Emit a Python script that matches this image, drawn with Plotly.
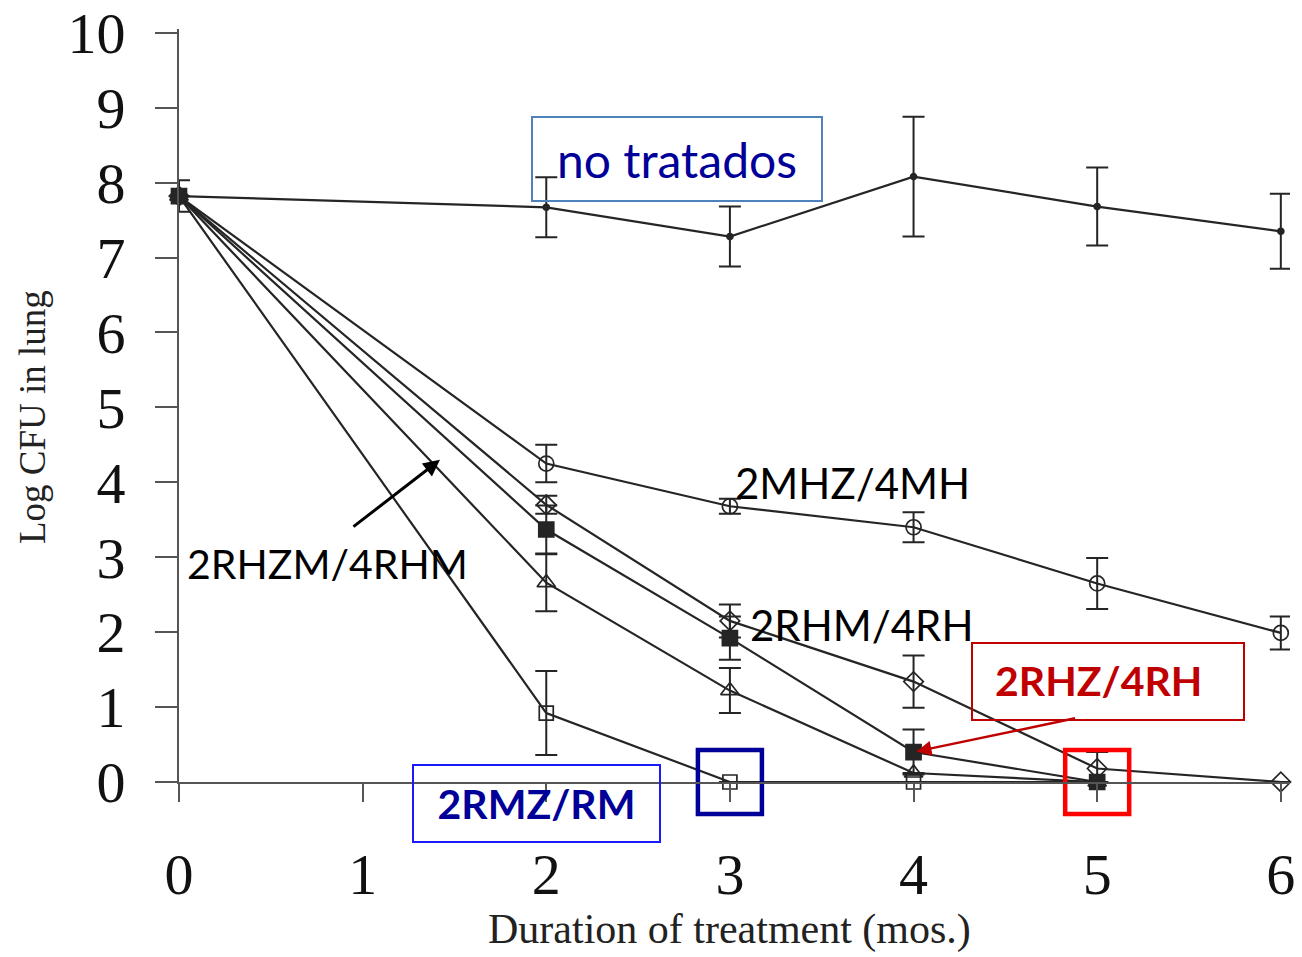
import plotly.graph_objects as go

# Months of treatment and log10 CFU in lung per regimen
months = [0, 2, 3, 4, 5, 6]

untreated = [7.82, 7.67, 7.28, 8.08, 7.68, 7.35]
untreated_err = [0.21, 0.40, 0.40, 0.80, 0.52, 0.50]

mhz_mh = [7.82, 4.25, 3.68, 3.40, 2.65, 1.99]
mhz_mh_err = [0, 0.25, 0.10, 0.20, 0.34, 0.22]

rhm_rh = [7.82, 3.70, 2.15, 1.34, 0.18, 0.0]
rhm_rh_err = [0, 0.12, 0.22, 0.35, 0.22, 0]

short_months = [0, 2, 3, 4, 5]

rhzm_rhm = [7.82, 2.66, 1.22, 0.12, 0.0]
rhzm_rhm_err = [0, 0.38, 0.30, 0, 0]

rmz_rm = [7.82, 0.92, 0.0, 0.0, 0.0]
rmz_rm_err = [0, 0.56, 0, 0, 0]

rhz_rh = [7.82, 3.37, 1.92, 0.40, 0.0]
rhz_rh_err = [0, 0.32, 0.29, 0.30, 0]

INK = "#252525"
AXIS = "#555555"
SERIF = "Liberation Serif"
SANS = "Lato"


def series(x, y, err, symbol, size):
    return go.Scatter(
        x=x, y=y, mode="lines+markers",
        line=dict(color=INK, width=2.2),
        marker=dict(symbol=symbol, size=size, color=INK,
                    line=dict(color=INK, width=1.7)),
        error_y=dict(type="data", array=err, color=INK, thickness=2, width=11),
        cliponaxis=False, showlegend=False, hoverinfo="x+y",
    )


fig = go.Figure()
fig.add_trace(series(months, untreated, untreated_err, "circle", 6))
fig.add_trace(series(months, mhz_mh, mhz_mh_err, "circle-open", 15))
fig.add_trace(series(months, rhm_rh, rhm_rh_err, "diamond-open", 15))
fig.add_trace(series(short_months, rhzm_rhm, rhzm_rhm_err, "triangle-up-open", 16))
fig.add_trace(series(short_months, rmz_rm, rmz_rm_err, "square-open", 14))
fig.add_trace(series(short_months, rhz_rh, rhz_rh_err, "square", 15))

# Highlight frames around the points where the bacterial count first reaches zero
fig.add_trace(go.Scatter(
    x=[short_months[2]], y=[rmz_rm[2]], mode="markers",
    marker=dict(symbol="square-open", size=64, color="#000099", line=dict(width=4.5)),
    cliponaxis=False, showlegend=False, hoverinfo="skip"))
fig.add_trace(go.Scatter(
    x=[short_months[4]], y=[rhz_rh[4]], mode="markers",
    marker=dict(symbol="square-open", size=64, color="#ff0000", line=dict(width=4.5)),
    cliponaxis=False, showlegend=False, hoverinfo="skip"))

annotations = [
    dict(x=2.711, y=8.32, xref="x", yref="y", text="no tratados", showarrow=False,
         font=dict(family=SANS, size=48, color="#000099"),
         bordercolor="#4f81bd", borderwidth=2, borderpad=0, width=288, height=82),
    dict(x=3.016, y=3.99, xref="x", yref="y", text="2MHZ/4MH", showarrow=False,
         xanchor="left", font=dict(family=SANS, size=42, color="#000000")),
    dict(x=3.098, y=2.10, xref="x", yref="y", text="2RHM/4RH", showarrow=False,
         xanchor="left", font=dict(family=SANS, size=42, color="#000000")),
    dict(x=0.033, y=2.92, xref="x", yref="y", text="2RHZM/4RHM", showarrow=False,
         xanchor="left", font=dict(family=SANS, size=41, color="#000000")),
    # boxed 2RHZ/4RH label: frame and text drawn separately
    dict(x=5.058, y=1.34, xref="x", yref="y", text=" ", showarrow=False,
         font=dict(family=SANS, size=20),
         bordercolor="#c00000", borderwidth=2, borderpad=0, width=270, height=75),
    dict(x=4.43, y=1.36, xref="x", yref="y", text="<b>2RHZ/4RH</b>", showarrow=False,
         xanchor="left", font=dict(family=SANS, size=41, color="#c00000")),
    dict(x=1.946, y=0, xref="x", yref="paper", yshift=-21, text="<b>2RMZ/RM</b>",
         showarrow=False, yanchor="middle",
         font=dict(family=SANS, size=41, color="#000099"),
         bordercolor="#1a1aff", borderwidth=2, borderpad=0, width=245, height=75),
    # pointer to the 2RHZM/4RHM curve
    dict(x=1.421, y=4.30, xref="x", yref="y", text="", showarrow=True,
         ax=-88, ay=68, arrowhead=2, arrowsize=1.1, arrowwidth=3, arrowcolor="#000000"),
    # pointer to the 2RHZ/4RH point at month 4
    dict(x=short_months[3], y=rhz_rh[3], xref="x", yref="y", text="", showarrow=True,
         ax=163, ay=-34, standoff=3, arrowhead=2, arrowsize=1.2, arrowwidth=2.5,
         arrowcolor="#c00000"),
    # axis titles
    dict(x=3.0, y=0, xref="x", yref="paper", yshift=-147, text="Duration of treatment (mos.)",
         showarrow=False, yanchor="middle", font=dict(family=SERIF, size=42, color="#222222")),
    dict(x=0, y=4.87, xref="paper", yref="y", xshift=-147, text="Log CFU in lung",
         showarrow=False, textangle=-90, xanchor="center", yanchor="middle",
         font=dict(family=SERIF, size=37, color="#222222")),
]

fig.update_layout(
    width=1302, height=957,
    margin=dict(l=179, r=12, t=29, b=175),
    paper_bgcolor="white", plot_bgcolor="white",
    annotations=annotations,
    xaxis=dict(range=[0, 6.05], tickvals=[0, 1, 2, 3, 4, 5, 6], automargin=False,
               showline=True, linecolor=AXIS, linewidth=2, mirror=False,
               ticks="outside", ticklen=18, tickwidth=2, tickcolor=AXIS,
               showgrid=False, zeroline=False, ticklabelstandoff=22,
               tickfont=dict(family=SERIF, size=58, color="#111111")),
    yaxis=dict(range=[0, 10.05], tickvals=list(range(0, 11)), automargin=False,
               showline=True, linecolor=AXIS, linewidth=2,
               ticks="outside", ticklen=22, tickwidth=2, tickcolor=AXIS,
               showgrid=False, zeroline=False, ticklabelstandoff=18,
               tickfont=dict(family=SERIF, size=58, color="#111111")),
)

fig.write_html("out.html")
